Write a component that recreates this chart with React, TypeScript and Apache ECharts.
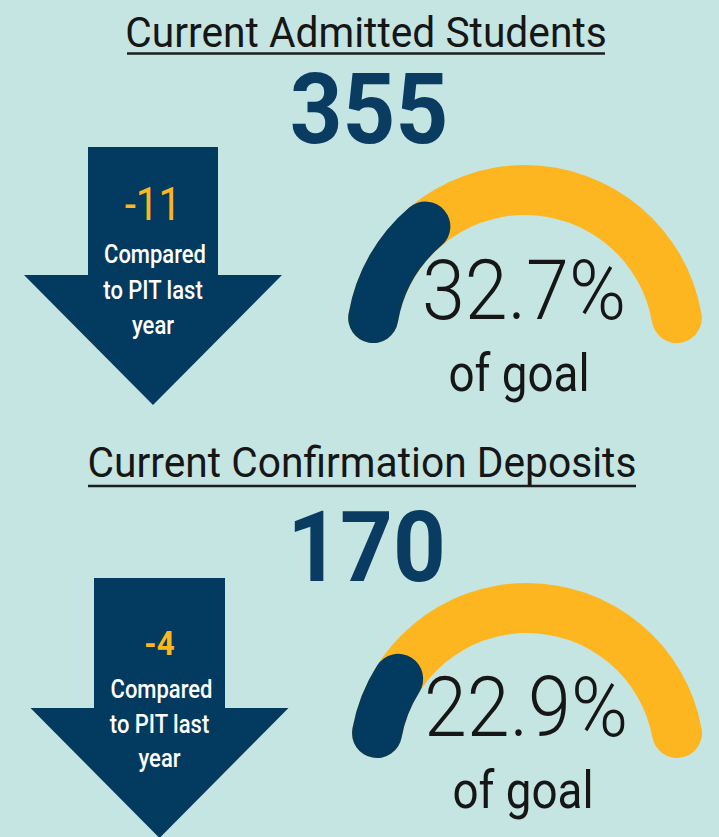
import React, { useEffect, useRef } from "react";
import * as echarts from "echarts";

// ---------- data ----------
const titles = ["Current Admitted Students", "Current Confirmation Deposits"];
const currentCounts = [355, 170];
const changeVsLastYear = [-11, -4];
const changeCaption = ["Compared", "to PIT last", "year"];
const goalPercents = [32.7, 22.9];
const goalCaption = "of goal";

// ---------- style ----------
const BG = "#c5e5e2";
const NAVY = "#033a5f";
const NUM = "#0a3c62";
const YELLOW = "#fdb620";
const INK = "#161616";
const FONT = "Roboto";

const W = 719;
const H = 837;

// layout of each panel (positions only)
const layout = [
  {
    titleX: 366, titleY: 33, ulY: 53.5, ulX0: 127, ulX1: 605,
    numX: 369, numY: 110,
    arrow: { cx: 153, top: 147, stemHalf: 65, headY: 275, headHalf: 129, tipY: 405 },
    deltaY: 205, deltaSize: 46, deltaWeight: 400, deltaScale: 0.88, capY: [255, 291, 326],
    gauge: { cx: 525, cy: 344, R: 154, ang: 9.7, w: 50 },
    pctY: 290, goalX: 519, goalY: 373,
  },
  {
    titleX: 362, titleY: 463, ulY: 486, ulX0: 88, ulX1: 636,
    numX: 366.5, numY: 547.5,
    arrow: { cx: 159.5, top: 578, stemHalf: 65.5, headY: 708, headHalf: 129, tipY: 838 },
    deltaY: 644, deltaSize: 34, deltaWeight: 700, deltaScale: 0.92, capY: [690, 725, 759],
    gauge: { cx: 527, cy: 760.5, R: 152.5, ang: 10.4, w: 50 },
    pctY: 707, goalX: 523, goalY: 790,
  },
];

function txt(text: string, x: number, y: number, font: string, fill: string, sx: number) {
  return {
    type: "text",
    x,
    y,
    scaleX: sx,
    silent: true,
    style: {
      text,
      x: 0,
      y: 0,
      font,
      fill,
      align: "center",
      verticalAlign: "middle",
      textAlign: "center",
      textVerticalAlign: "middle",
    },
  };
}

export default function App() {
  const ref = useRef<HTMLDivElement>(null);

  useEffect(() => {
    document.body.style.margin = "0";
    document.body.style.background = BG;
    if (!ref.current) return;
    const chart = echarts.init(ref.current, undefined, { renderer: "svg", width: W, height: H });

    const graphics: any[] = [];
    const series: any[] = [];

    layout.forEach((L, i) => {
      // title + underline
      graphics.push(txt(titles[i], L.titleX, L.titleY, `400 42px ${FONT}`, INK, 0.97));
      graphics.push({
        type: "line",
        silent: true,
        shape: { x1: L.ulX0, y1: L.ulY, x2: L.ulX1, y2: L.ulY },
        style: { stroke: "#1e1e1e", lineWidth: 2.5 },
      });
      // big number
      graphics.push(txt(String(currentCounts[i]), L.numX, L.numY, `700 98px ${FONT}`, NUM, 0.94));

      // arrow
      const a = L.arrow;
      graphics.push({
        type: "polygon",
        silent: true,
        shape: {
          points: [
            [a.cx - a.stemHalf, a.top],
            [a.cx + a.stemHalf, a.top],
            [a.cx + a.stemHalf, a.headY],
            [a.cx + a.headHalf, a.headY],
            [a.cx, a.tipY],
            [a.cx - a.headHalf, a.headY],
            [a.cx - a.stemHalf, a.headY],
          ],
        },
        style: { fill: NAVY },
      });
      graphics.push(
        txt(String(changeVsLastYear[i]), a.cx, L.deltaY, `${L.deltaWeight} ${L.deltaSize}px ${FONT}`, YELLOW, L.deltaScale)
      );
      changeCaption.forEach((c, j) => {
        graphics.push(txt(c, a.cx + (j === 0 ? 2 : 0), L.capY[j], `500 25px ${FONT}`, "#ffffff", 0.88));
      });

      // gauge
      const g = L.gauge;
      const spanRad = ((180 - 2 * g.ang) * Math.PI) / 180;
      const k = g.w / (g.R * spanRad); // round caps add to the visible length
      const gaugeMin = (100 * k) / (1 + k);
      series.push({
        type: "gauge",
        center: [g.cx, g.cy],
        radius: g.R + g.w / 2,
        startAngle: 180 - g.ang,
        endAngle: g.ang,
        min: gaugeMin,
        max: 100,
        silent: true,
        axisLine: { roundCap: true, lineStyle: { width: g.w, color: [[1, YELLOW]] } },
        progress: { show: true, roundCap: true, width: g.w, itemStyle: { color: NAVY } },
        pointer: { show: false },
        anchor: { show: false },
        axisTick: { show: false },
        splitLine: { show: false },
        axisLabel: { show: false },
        title: { show: false },
        detail: { show: false },
        data: [{ value: goalPercents[i] }],
      });

      graphics.push(
        txt(`${goalPercents[i].toFixed(1)}%`, g.cx - 1, L.pctY, `300 84px ${FONT}`, INK, 0.92)
      );
      graphics.push(txt(goalCaption, L.goalX, L.goalY, `400 52px ${FONT}`, INK, 0.88));
    });

    chart.setOption({
      animation: false,
      backgroundColor: BG,
      series,
      graphic: { elements: graphics },
    });

    return () => chart.dispose();
  }, []);

  return <div ref={ref} style={{ width: W, height: H, background: BG }} />;
}
